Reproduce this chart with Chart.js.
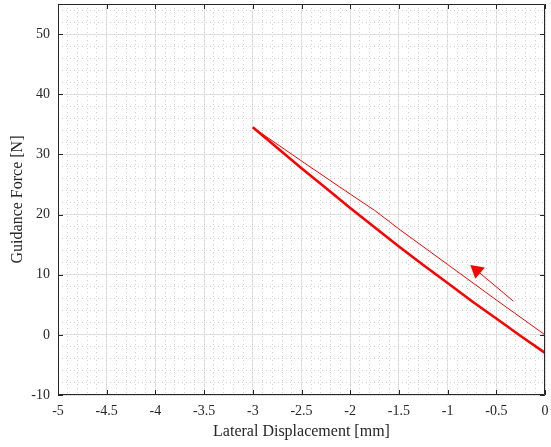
<!DOCTYPE html>
<html>
<head>
<meta charset="utf-8">
<script src="https://cdn.jsdelivr.net/npm/chart.js@4"></script>
<style>
  html, body { margin: 0; padding: 0; background: #fff; }
  #wrap { width: 551px; height: 447px; }
</style>
</head>
<body>
<div id="wrap"><canvas id="main-graph"></canvas></div>
<script>
// upper (thin) branch: from 0 back to -3 mm
const upperX = [0, -0.5, -1, -1.5, -1.75, -2, -2.5, -3];
const upperY = [0, 5.8, 11.7, 17.6, 20.7, 23.4, 28.9, 34.5];
// lower (thick) branch: from -3 mm back to 0
const lowerX = [-3, -2.75, -2.5, -2.25, -2, -1.75, -1.5, -1.25, -1, -0.75, -0.5, -0.25, 0];
const lowerY = [34.5, 31.1, 27.7, 24.4, 21.1, 17.9, 14.7, 11.6, 8.6, 5.6, 2.7, -0.2, -3];
// arrow annotation
const arrowX = [-0.325, -0.70];
const arrowY = [5.6, 10.7];

const xTicks = [-5, -4.5, -4, -3.5, -3, -2.5, -2, -1.5, -1, -0.5, 0];
const yTicks = [-10, 0, 10, 20, 30, 40, 50];

const toPts = (xs, ys) => xs.map((x, i) => ({ x: x, y: ys[i] }));

const axisColor = "#262626";
const tickFont = { family: "Liberation Serif", size: 14 };

const noPad = (s) => {
  s.paddingTop = 0;
  s.paddingBottom = 0;
  s.paddingLeft = 0;
  s.paddingRight = 0;
};

// box around the plot with inward tick marks
const boxTicks = {
  id: "boxTicks",
  afterDraw(chart) {
    const { ctx, chartArea: a, scales } = chart;
    ctx.save();
    ctx.strokeStyle = axisColor;
    ctx.lineWidth = 1;
    ctx.beginPath();
    ctx.rect(a.left + 0.5, a.top + 0.5, a.right - a.left - 1, a.bottom - a.top - 1);
    xTicks.forEach((v) => {
      const px = Math.round(scales.x.getPixelForValue(v)) + 0.5;
      ctx.moveTo(px, a.bottom);
      ctx.lineTo(px, a.bottom - 5);
      ctx.moveTo(px, a.top);
      ctx.lineTo(px, a.top + 5);
    });
    yTicks.forEach((v) => {
      const py = Math.round(scales.y.getPixelForValue(v)) + 0.5;
      ctx.moveTo(a.left, py);
      ctx.lineTo(a.left + 5, py);
      ctx.moveTo(a.right, py);
      ctx.lineTo(a.right - 5, py);
    });
    ctx.stroke();
    ctx.restore();
  },
};

new Chart(document.getElementById("main-graph"), {
  type: "scatter",
  data: {
    datasets: [
      {
        data: toPts(upperX, upperY),
        showLine: true,
        borderColor: "#ff0000",
        borderWidth: 1,
        pointRadius: 0,
      },
      {
        data: toPts(lowerX, lowerY),
        showLine: true,
        borderColor: "#ff0000",
        borderWidth: 2.5,
        pointRadius: 0,
      },
      {
        data: toPts(arrowX, arrowY),
        showLine: true,
        borderColor: "#ff0000",
        borderWidth: 1,
        pointRadius: 0,
      },
      {
        data: toPts(arrowX.slice(1), arrowY.slice(1)),
        showLine: false,
        pointStyle: "triangle",
        rotation: -50,
        pointRadius: 8.5,
        backgroundColor: "#ff0000",
        borderWidth: 0,
      },
    ],
  },
  options: {
    animation: false,
    responsive: true,
    maintainAspectRatio: false,
    layout: { autoPadding: false, padding: { left: 0, right: 6, top: 4, bottom: 0 } },
    scales: {
      x: {
        type: "linear",
        min: -5,
        max: 0,
        afterBuildTicks: (s) => { s.ticks = xTicks.map((v) => ({ value: v })); },
        afterFit: (s) => { s.height = 52; noPad(s); },
        ticks: {
          autoSkip: false,
          maxRotation: 0,
          padding: 8,
          color: axisColor,
          font: tickFont,
          callback: (v) => String(v),
        },
        grid: { color: "#e3e3e3", drawTicks: false },
        border: { display: false },
        title: {
          display: true,
          text: "Lateral Displacement [mm]",
          color: axisColor,
          font: { family: "Liberation Serif", size: 16 },
          padding: { top: 0, bottom: 6 },
        },
      },
      y: {
        type: "linear",
        min: -10,
        max: 55,
        afterBuildTicks: (s) => { s.ticks = yTicks.map((v) => ({ value: v })); },
        afterFit: (s) => { s.width = 58; noPad(s); },
        ticks: {
          padding: 8,
          color: axisColor,
          font: tickFont,
          callback: (v) => String(v),
        },
        grid: { color: "#e3e3e3", drawTicks: false },
        border: { display: false },
        title: {
          display: true,
          text: "Guidance Force [N]",
          color: axisColor,
          font: { family: "Liberation Serif", size: 16 },
          padding: { top: 8, bottom: 0 },
        },
      },
      xMinor: {
        type: "linear",
        position: "bottom",
        min: -5,
        max: 0,
        afterFit: (s) => { s.height = 0; noPad(s); },
        ticks: { display: false, stepSize: 0.1 },
        grid: { color: "#d0d0d0", drawTicks: false },
        border: { display: false, dash: [1, 3] },
      },
      yMinor: {
        type: "linear",
        position: "left",
        min: -10,
        max: 55,
        afterFit: (s) => { s.width = 0; noPad(s); },
        ticks: { display: false, stepSize: 2, includeBounds: false },
        grid: { color: "#d0d0d0", drawTicks: false },
        border: { display: false, dash: [1, 3] },
      },
    },
    plugins: {
      legend: { display: false },
      tooltip: { enabled: false },
    },
  },
  plugins: [boxTicks],
});
</script>
</body>
</html>
